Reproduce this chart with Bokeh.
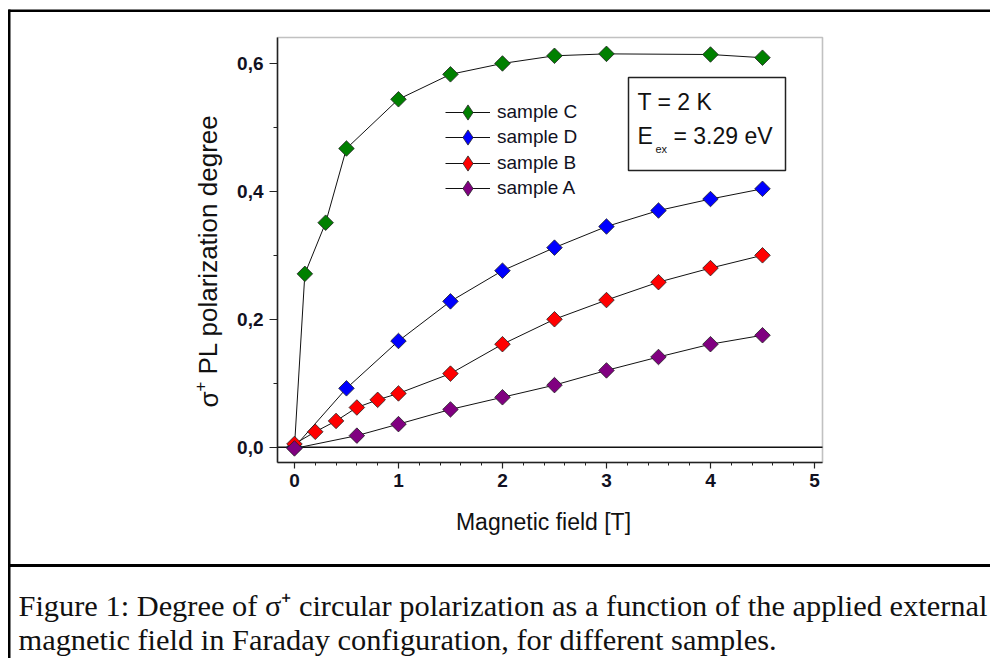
import numpy as np
from bokeh.plotting import figure
from bokeh.models import (Range1d, FixedTicker, Label, BoxAnnotation,
                          Legend, LegendItem)
from bokeh.embed import file_html
from bokeh.resources import INLINE

# ---- data ----
field_C = [0.0, 0.1, 0.3, 0.5, 1.0, 1.5, 2.0, 2.5, 3.0, 4.0, 4.5]
pol_C = [0.0, 0.271, 0.351, 0.467, 0.544, 0.583, 0.600, 0.612, 0.615, 0.614, 0.609]

field_D = [0.0, 0.5, 1.0, 1.5, 2.0, 2.5, 3.0, 3.5, 4.0, 4.5]
pol_D = [0.0, 0.092, 0.166, 0.228, 0.276, 0.312, 0.345, 0.370, 0.388, 0.404]

field_B = [0.0, 0.2, 0.4, 0.6, 0.8, 1.0, 1.5, 2.0, 2.5, 3.0, 3.5, 4.0, 4.5]
pol_B = [0.005, 0.024, 0.041, 0.062, 0.074, 0.084, 0.115, 0.161, 0.200, 0.230, 0.258, 0.280, 0.300]

field_A = [0.0, 0.6, 1.0, 1.5, 2.0, 2.5, 3.0, 3.5, 4.0, 4.5]
pol_A = [-0.002, 0.018, 0.036, 0.059, 0.078, 0.097, 0.120, 0.141, 0.161, 0.175]

series_names = ["sample C", "sample D", "sample B", "sample A"]
series_colors = ["#008000", "#0000ff", "#ff0000", "#800080"]

x_ticks = [0, 1, 2, 3, 4, 5]
x_minor = [0.2, 0.4, 0.6, 0.8, 1.2, 1.4, 1.6, 1.8, 2.2, 2.4, 2.6, 2.8,
           3.2, 3.4, 3.6, 3.8, 4.2, 4.4, 4.6, 4.8]
y_ticks = [0.0, 0.2, 0.4, 0.6]
y_minor = [0.1, 0.3, 0.5]
y_tick_labels = ["0,0", "0,2", "0,4", "0,6"]

x_label = "Magnetic field [T]"
y_label = "PL polarization degree"
caption_1 = "Figure 1: Degree of \u03c3\u207a circular polarization as a function of the applied external"
caption_2 = "magnetic field in Faraday configuration, for different samples."

# chart box limits (data units)
x_lo, x_hi = -0.163, 5.077
y_lo, y_hi = -0.024, 0.6406

SANS = "Liberation Sans"
SERIF = "Liberation Serif"

# ---- figure: the frame is the whole page, axes are pinned to the chart box ----
W, H = 990, 658
BOX_L, BOX_R, BOX_T, BOX_B = 277, 822, 37, 462     # chart box in page pixels
sx = (x_hi - x_lo) / (BOX_R - BOX_L)
sy = (y_hi - y_lo) / (BOX_B - BOX_T)
p = figure(width=W, height=H, output_backend="svg", toolbar_location=None,
           x_range=Range1d(x_lo - BOX_L * sx, x_hi + (W - BOX_R) * sx),
           y_range=Range1d(y_lo - (H - BOX_B) * sy, y_hi + BOX_T * sy),
           min_border=0, min_border_left=0, min_border_right=0,
           min_border_top=0, min_border_bottom=0)
p.background_fill_color = "white"
p.border_fill_color = "white"
p.outline_line_color = None
p.grid.visible = False

p.xaxis.ticker = FixedTicker(ticks=x_ticks, minor_ticks=x_minor)
p.yaxis.ticker = FixedTicker(ticks=y_ticks, minor_ticks=y_minor)
p.yaxis.major_label_overrides = {t: l for t, l in zip(y_ticks, y_tick_labels)}
p.xaxis.fixed_location = y_lo
p.yaxis.fixed_location = x_lo
p.xaxis.bounds = (x_lo, x_hi)
p.yaxis.bounds = (y_lo, y_hi)

for ax in (p.xaxis[0], p.yaxis[0]):
    ax.axis_line_color = "#222222"
    ax.axis_line_width = 1.5
    ax.major_tick_line_color = "#222222"
    ax.minor_tick_line_color = "#222222"
    ax.major_tick_line_width = 1.2
    ax.minor_tick_line_width = 1.0
    ax.major_tick_in = 0
    ax.minor_tick_in = 0
    ax.major_label_text_font = SANS
    ax.major_label_text_font_style = "bold"
    ax.major_label_text_font_size = "19px"
    ax.major_label_text_color = "#111122"

p.xaxis.major_tick_out = 6
p.xaxis.minor_tick_out = 3
p.xaxis.major_label_standoff = 5
p.yaxis.major_tick_out = 8
p.yaxis.minor_tick_out = 4
p.yaxis.major_label_standoff = 6

# chart box outline
p.add_layout(BoxAnnotation(left=x_lo, right=x_hi, bottom=y_lo, top=y_hi,
                           fill_alpha=0, line_color="#333333", line_width=1.6,
                           level="underlay"))
# zero line across the chart box
p.segment(x0=[x_lo], y0=[0.0], x1=[x_hi], y1=[0.0], line_color="#111111", line_width=1.5)

# ---- series ----
data = [(field_C, pol_C), (field_D, pol_D), (field_B, pol_B), (field_A, pol_A)]
lines = []
for (fx, fy) in data:
    lines.append(p.line(fx, fy, line_color="#111111", line_width=1.0))
for (fx, fy), col in zip(data, series_colors):
    p.scatter(fx, fy, marker="square", size=11, angle=np.pi / 4,
              fill_color=col, line_color="#222222", line_width=0.8)
# legend keys: diamond symbols that draw nothing in the plot itself
keys = [p.scatter(x=np.array([np.nan]), y=np.array([np.nan]), marker="diamond",
                  fill_color=col, line_color="#222222", line_width=0.8)
        for col in series_colors]

# one legend box per row, rows 25 px apart
row_centres = [112, 137, 163, 188]
for name, ln, key, yc in zip(series_names, lines, keys, row_centres):
    p.add_layout(Legend(items=[LegendItem(label=name, renderers=[ln, key])],
                        location=(445, H - (yc + 19)), orientation="vertical",
                        glyph_width=45, glyph_height=38, spacing=0,
                        label_standoff=7, padding=0, margin=0,
                        label_text_font=SANS, label_text_font_size="19px",
                        label_text_color="#111122",
                        border_line_color=None, background_fill_alpha=0))


def lab(text, x, y, size, font=SANS, angle=0, align="left"):
    """x, y in page pixels from the top-left corner; y is the text's middle"""
    p.add_layout(Label(text=text, x=x, y=H - y, x_units="screen", y_units="screen",
                       text_font=font, text_font_size=size, text_color="#111111",
                       angle=angle, text_align=align, text_baseline="middle"))


def rect(l, r, t, b, fill=None, line=None, lw=1.0):
    p.add_layout(BoxAnnotation(left=l, right=r, top=H - t, bottom=H - b,
                               left_units="screen", right_units="screen",
                               top_units="screen", bottom_units="screen",
                               fill_color=fill if fill else "white",
                               fill_alpha=1 if fill else 0,
                               line_color=line if line else "black",
                               line_alpha=1 if line else 0, line_width=lw))

# ---- annotation box ----
rect(628, 785, 77, 170, line="#222222", lw=1.5)
lab("T = 2 K", 637, 101, "23px")
lab("E", 637, 135, "23px")
lab("ex", 655, 148, "11px")
lab("= 3.29 eV", 673, 135, "23px")

# ---- axis titles ----
lab(x_label, 543, 521, "23px", align="center")
lab(y_label, 207, 374, "26px", angle=np.pi / 2)
lab("\u03c3", 208, 407, "26px", angle=np.pi / 2)
lab("+", 199, 391, "17px", angle=np.pi / 2)

# ---- page frame lines and caption ----
rect(8, 990, 9, 11.5, fill="black")        # top border
rect(7.5, 10, 9, 658, fill="black")        # left border
rect(8, 990, 563.5, 566.5, fill="black")   # separator above caption

lab(caption_1, 18, 605, "30.4px", font=SERIF)
lab(caption_2, 18, 639, "30.4px", font=SERIF)

open("out.html", "w").write(file_html(p, INLINE))
